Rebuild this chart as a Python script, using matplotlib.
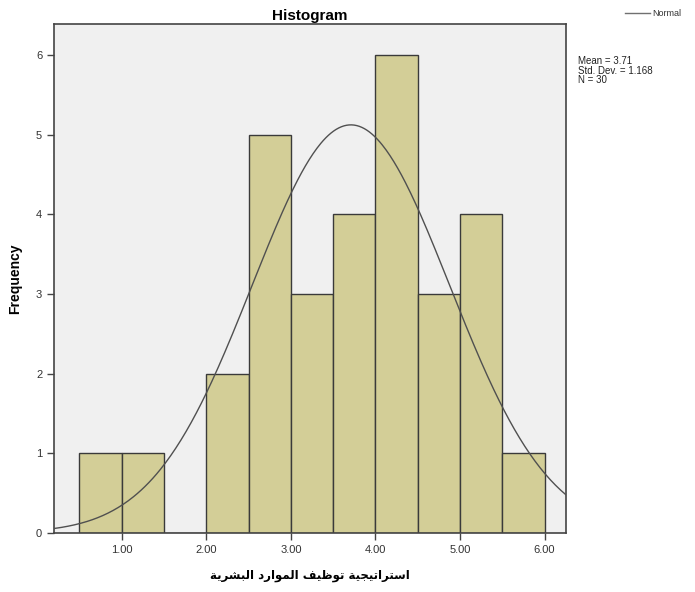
import matplotlib.pyplot as plt
import numpy as np

# histogram bins (width 0.5) and counts
bin_edges = [0.5, 1.0, 1.5, 2.0, 2.5, 3.0, 3.5, 4.0, 4.5, 5.0, 5.5, 6.0]
counts = [1, 1, 0, 2, 5, 3, 4, 6, 3, 4, 1]

mean = 3.71
std = 1.168
n = 30

xticks = [1, 2, 3, 4, 5, 6]
yticks = [0, 1, 2, 3, 4, 5, 6]

# "استراتيجية توظيف الموارد البشرية" in shaped presentation forms (logical order)
xlabel_logical = ("\ufe8d\ufeb3\ufe98\ufeae\ufe8d\ufe97\ufef4\ufea0\ufef4\ufe94 "
                  "\ufe97\ufeee\ufec7\ufef4\ufed2 "
                  "\ufe8d\ufedf\ufee4\ufeee\ufe8d\ufead\ufea9 "
                  "\ufe8d\ufedf\ufe92\ufeb8\ufeae\ufef3\ufe94")
xlabel_visual = xlabel_logical[::-1]

sans = ['Liberation Sans', 'DejaVu Sans']

fig = plt.figure(figsize=(6.95, 5.92), dpi=100)
ax = fig.add_axes([0.0777, 0.0997, 0.7363, 0.8598])
ax.set_facecolor('#f0f0f0')

widths = np.diff(bin_edges)
ax.bar(bin_edges[:-1], counts, width=widths, align='edge',
       color='#d3ce97', edgecolor='#3a3a3a', linewidth=1.0, zorder=2)

xs = np.linspace(0.2, 6.25, 400)
bw = bin_edges[1] - bin_edges[0]
ys = n * bw / (std * np.sqrt(2 * np.pi)) * np.exp(-0.5 * ((xs - mean) / std) ** 2)
ax.plot(xs, ys, color='#505050', linewidth=1.0, zorder=3)

ax.set_xlim(0.2, 6.25)
ax.set_ylim(0, 6.39)
ax.set_xticks(xticks)
ax.set_xticklabels([f"{v:.2f}" for v in xticks], family=sans)
ax.set_yticks(yticks)
ax.set_yticklabels([str(v) for v in yticks], family=sans)
ax.tick_params(axis='both', direction='out', length=5, width=1, color='#444444',
               labelsize=8, labelcolor='#333333')
for s in ax.spines.values():
    s.set_color('#444444')
    s.set_linewidth(1.2)

ax.set_title('Histogram', fontsize=11, fontweight='bold', family=sans, pad=3)
ax.set_ylabel('Frequency', fontsize=10, fontweight='bold', family=sans, labelpad=10)
ax.set_xlabel(xlabel_visual, fontsize=8.5, fontweight='bold', family=['DejaVu Sans'], labelpad=10)

# legend and stats box on the right
fig.add_artist(plt.Line2D([625 / 695, 650 / 695], [1 - 13 / 592, 1 - 13 / 592],
                          color='#707070', linewidth=1.0))
fig.text(652 / 695, 1 - 13 / 592, 'Normal', fontsize=6.5, va='center', color='#333333',
         family=sans)
fig.text(578 / 695, 1 - 56 / 592, f"Mean = {mean}\nStd. Dev. = {std}\nN = {n}",
         fontsize=7, va='top', color='#222222', linespacing=0.95, family=sans)

fig.savefig('out.png', dpi=100)
